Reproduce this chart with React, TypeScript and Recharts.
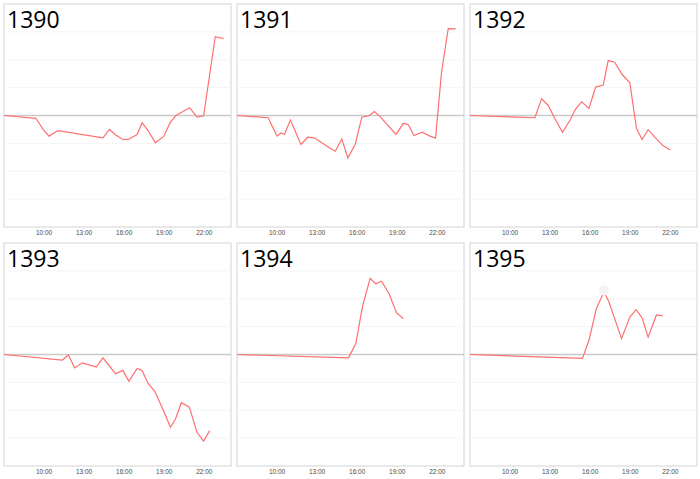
import React from "react";
import {
  LineChart,
  Line,
  XAxis,
  YAxis,
  ReferenceLine,
  ReferenceArea,
  ReferenceDot,
} from "recharts";

// ---- data (hours of day, values in grid units) ----
const TITLES = ["1390", "1391", "1392", "1393", "1394", "1395"];
const X_TICKS = [10, 13, 16, 19, 22];
const GRID_TICKS = [-3, -2, -1, 1, 2, 3];

const T1390 = [7.0, 9.38, 10.0, 10.37, 11.05, 14.41, 14.9, 15.35, 15.92, 16.35, 16.97, 17.34, 17.79, 18.34, 18.96, 19.46, 19.88, 20.9, 21.45, 21.95, 22.82, 23.44];
const V1390 = [0, -0.1, -0.54, -0.74, -0.54, -0.8, -0.5, -0.69, -0.87, -0.85, -0.68, -0.26, -0.54, -0.98, -0.75, -0.24, 0, 0.28, -0.06, -0.01, 2.83, 2.76];

const T1391 = [7.0, 9.33, 10.0, 10.3, 10.55, 11.0, 11.79, 12.29, 12.79, 13.86, 14.36, 14.85, 15.3, 15.85, 16.35, 16.92, 17.29, 17.72, 18.91, 19.46, 19.83, 20.26, 20.88, 21.45, 21.87, 22.32, 22.82, 23.37];
const V1391 = [0, -0.08, -0.74, -0.63, -0.68, -0.16, -1.04, -0.78, -0.8, -1.14, -1.28, -0.84, -1.52, -1.04, -0.06, 0, 0.14, -0.04, -0.68, -0.28, -0.33, -0.72, -0.6, -0.74, -0.81, 1.56, 3.12, 3.11];

const T1392 = [7.0, 11.86, 12.36, 12.86, 13.35, 13.93, 14.5, 14.92, 15.37, 15.91, 16.41, 16.98, 17.35, 17.83, 18.4, 18.97, 19.47, 19.89, 20.34, 20.96, 21.45, 22.0];
const V1392 = [0, -0.08, 0.6, 0.36, -0.11, -0.6, -0.16, 0.24, 0.49, 0.25, 1.02, 1.09, 1.97, 1.91, 1.47, 1.17, -0.47, -0.86, -0.51, -0.84, -1.08, -1.24];

const T1393 = [7.0, 11.37, 11.82, 12.29, 12.86, 13.91, 14.41, 15.35, 15.9, 16.35, 16.97, 17.34, 17.79, 18.29, 18.96, 19.46, 19.83, 20.28, 20.88, 21.45, 21.95, 22.4];
const V1393 = [0, -0.2, -0.02, -0.48, -0.3, -0.45, -0.12, -0.69, -0.57, -0.96, -0.5, -0.57, -1.04, -1.32, -2.03, -2.61, -2.33, -1.73, -1.89, -2.79, -3.11, -2.73];

const T1394 = [7.0, 15.35, 15.9, 16.4, 16.97, 17.39, 17.82, 18.39, 18.94, 19.46];
const V1394 = [0, -0.12, 0.39, 1.73, 2.73, 2.54, 2.63, 2.18, 1.5, 1.28];

const T1395 = [7.0, 15.42, 15.91, 16.46, 17.03, 17.4, 18.35, 18.97, 19.44, 19.89, 20.34, 20.96, 21.45];
const V1395 = [0, -0.14, 0.51, 1.64, 2.24, 1.89, 0.57, 1.34, 1.61, 1.31, 0.62, 1.42, 1.39];

const HIGHLIGHT_1395 = { x: 17.03, y: 2.3 };

const SERIES = [
  [T1390, V1390],
  [T1391, V1391],
  [T1392, V1392],
  [T1393, V1393],
  [T1394, V1394],
  [T1395, V1395],
];

const W = 233;
const H = 239;
const LINE_COLOR = "#ff6f6f";

function Panel({ idx }: { idx: number }) {
  const [ts, vs] = SERIES[idx];
  const data = ts.map((t, i) => ({ t, v: vs[i] }));
  const col = idx % 3;
  const row = Math.floor(idx / 3);
  return (
    <div
      style={{
        position: "absolute",
        left: col * W,
        top: row * H,
        width: W,
        height: H,
      }}
    >
      <LineChart
        width={W}
        height={H}
        data={data}
        margin={{ top: 4, right: 2, left: 4, bottom: 0 }}
      >
        <XAxis
          dataKey="t"
          type="number"
          domain={[7, 24]}
          ticks={X_TICKS}
          tickFormatter={(h: number) => `${h}:00`}
          axisLine={false}
          tickLine={{ stroke: "#eaeaea" }}
          tickSize={2}
          tickMargin={1}
          height={12}
          interval={0}
          tick={{ fontSize: 6.5, fill: "#4a4a4a", fontFamily: "Liberation Sans, Arial, sans-serif" }}
        />
        <YAxis hide type="number" domain={[-4, 4]} />
        {GRID_TICKS.map((g) => (
          <ReferenceLine key={g} y={g} stroke="#f5f5f5" strokeWidth={1} />
        ))}
        <ReferenceLine y={0} stroke="#c9c9c9" strokeWidth={1.5} />
        <ReferenceArea
          x1={7}
          x2={24}
          y1={-4}
          y2={4}
          fill="none"
          fillOpacity={0}
          stroke="#e2e2e2"
          strokeWidth={1.5}
        />
        {idx === 5 && (
          <ReferenceDot
            x={HIGHLIGHT_1395.x}
            y={HIGHLIGHT_1395.y}
            r={5}
            fill="#f4f4f4"
            stroke="none"
          />
        )}
        <Line
          type="linear"
          dataKey="v"
          stroke={LINE_COLOR}
          strokeWidth={1.2}
          dot={false}
          activeDot={false}
          isAnimationActive={false}
        />
      </LineChart>
      <svg
        width={W}
        height={40}
        style={{ position: "absolute", left: 0, top: 0, pointerEvents: "none" }}
      >
        <text
          x={7}
          y={28}
          fontSize={23}
          fill="#000"
          fontFamily="Open Sans, Liberation Sans, sans-serif"
        >
          {TITLES[idx]}
        </text>
      </svg>
    </div>
  );
}

export default function App() {
  return (
    <div
      style={{
        position: "absolute",
        left: 0,
        top: 0,
        width: 700,
        height: 479,
        background: "#fff",
      }}
    >
      {TITLES.map((_, i) => (
        <Panel key={i} idx={i} />
      ))}
    </div>
  );
}
